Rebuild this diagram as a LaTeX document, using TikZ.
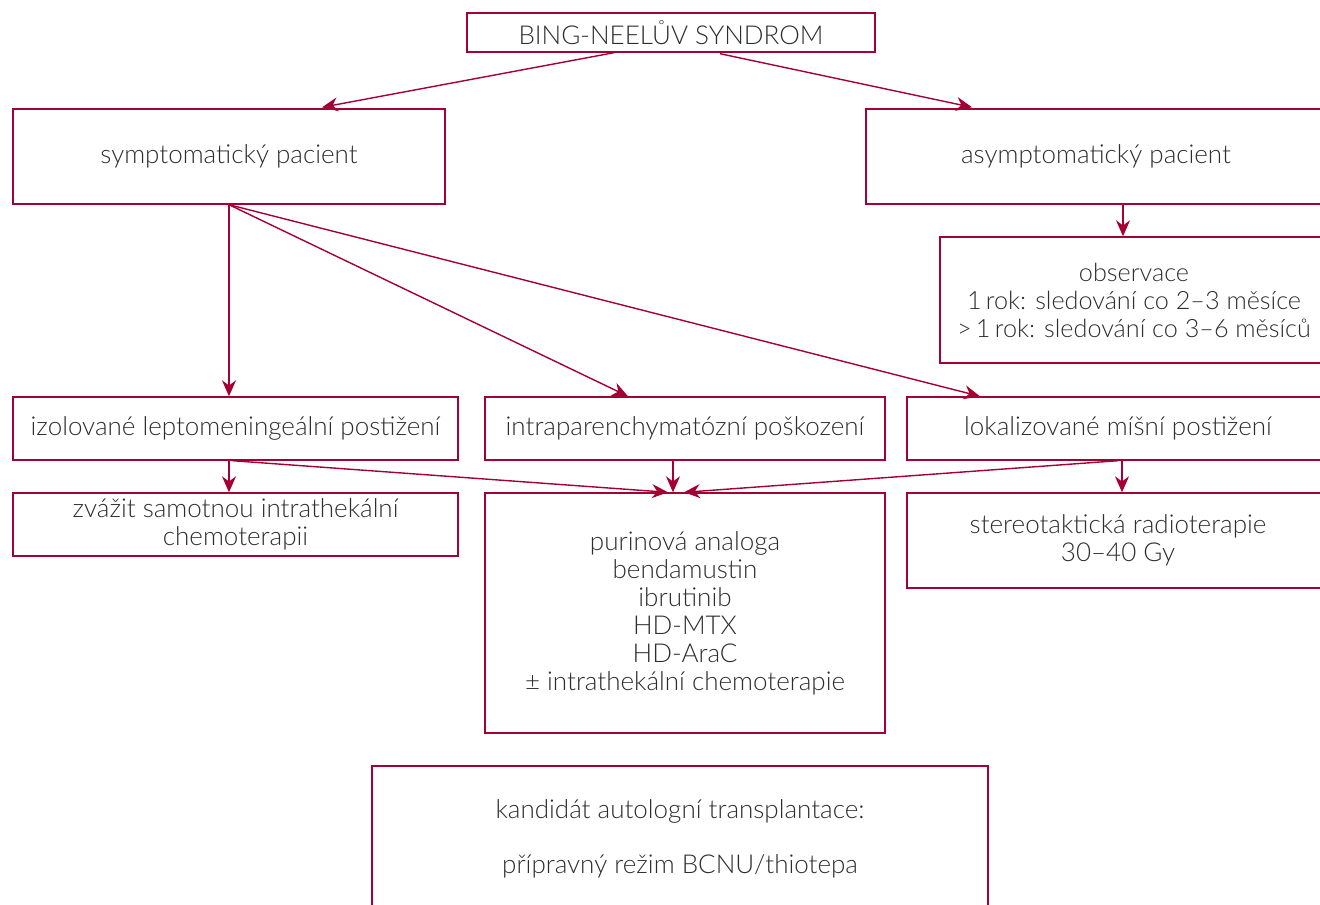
\documentclass[tikz,border=0pt]{standalone}
\usepackage{fontspec}
\setmainfont{Lato}[UprightFont=* Light, BoldFont=* Regular]
\usetikzlibrary{calc,arrows.meta}
\definecolor{brand}{RGB}{165,0,52}
\definecolor{ink}{RGB}{45,45,45}

\tikzset{
  box/.style={draw=brand, line width=0.7pt, inner sep=0pt, align=center,
    text=ink, font=\fontsize{13}{14}\selectfont},
  link/.style={draw=brand, line width=0.7pt, -{Stealth[length=8pt,width=7pt]}}
}

\begin{document}
\begin{tikzpicture}[x=0.5pt,y=-0.5pt]
\useasboundingbox (0,0) rectangle (1320,904);

% Top level
\node[box, minimum width=204pt, minimum height=19.5pt] (bing) at (671,32.5) {BING-NEELŮV SYNDROM};
\node[box, minimum width=216pt, minimum height=47.5pt] (sym) at (229,156.5) {symptomatický pacient};
\node[box, minimum width=230pt, minimum height=47.5pt] (asym) at (1096,156.5) {asymptomatický pacient};
\node[box, minimum width=194pt, minimum height=63pt, font=\fontsize{12.6}{14}\selectfont] (obs) at (1134,300)
  {observace\\1\,rok: sledování co 2–3 měsíce\\>\,1\,rok: sledování co 3–6 měsíců};

% Second level
\node[box, minimum width=222.5pt, minimum height=31.5pt] (izol) at (235.5,428.5) {izolované leptomeningeální postižení};
\node[box, minimum width=200pt, minimum height=31.5pt] (intra) at (685,428.5) {intraparenchymatózní poškození};
\node[box, minimum width=211pt, minimum height=31.5pt] (lokal) at (1118,428.5) {lokalizované míšní postižení};

% Therapy
\node[box, minimum width=222.5pt, minimum height=31.5pt] (zvazit) at (235.5,524.5) {zvážit samotnou intrathekální\\chemoterapii};
\node[box, minimum width=200pt, minimum height=120pt] (purin) at (685,613)
  {purinová analoga\\bendamustin\\ibrutinib\\HD-MTX\\HD-AraC\\± intrathekální chemoterapie};
\node[box, minimum width=211pt, minimum height=47.5pt] (stereo) at (1118,540.5) {stereotaktická radioterapie\\30–40 Gy};
\node[box, minimum width=308pt, minimum height=73pt] (kand) at (680,839)
  {kandidát autologní transplantace:\\[13.5pt]přípravný režim BCNU/thiotepa};

% Connectors
\draw[link] ($(bing.south)+(-57,0)$) -- ($(sym.north)+(93,-1)$);
\draw[link] ($(bing.south)+(49,1)$) -- ($(asym.north)+(-124,-1)$);
\draw[link] ($(asym.south)+(27,0)$) coordinate (a1) -- (a1 |- obs.north);
\draw[link] (sym.south) -- (sym.south |- izol.north);
\draw[link] (sym.south) -- ($(intra.north)+(-57,0)$);
\draw[link] (sym.south) -- ($(lokal.north)+(-138,0)$);
\draw[link] (sym.south |- izol.south) -- (sym.south |- zvazit.north);
\draw[link] ($(izol.south)+(-3,0)$) -- ($(purin.north)+(-17,0)$);
\draw[link] ($(intra.south)+(-12,0)$) coordinate (i1) -- (i1 |- purin.north);
\draw[link] (lokal.south) -- ($(purin.north)+(-1,0)$);
\draw[link] ($(lokal.south)+(4,0)$) coordinate (l1) -- (l1 |- stereo.north);
\end{tikzpicture}
\end{document}
